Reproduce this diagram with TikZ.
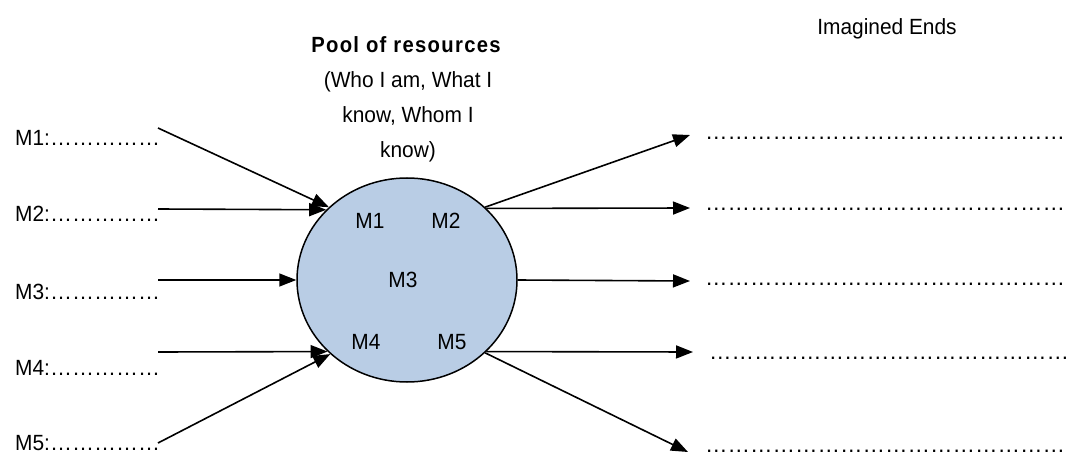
\documentclass[tikz,border=0pt]{standalone}
\usepackage{fontspec}
\setmainfont[FakeStretch=0.95]{Liberation Sans}
\newfontfamily\titlefont[LetterSpace=6,FakeStretch=0.92]{Liberation Sans}
\newfontfamily\dotfont{Liberation Sans}
\usetikzlibrary{arrows.meta,shapes.geometric}
\definecolor{poolblue}{RGB}{185,205,229}
\begin{document}
\begin{tikzpicture}[x=1pt,y=-1pt,
  txt/.style={font=\fontsize{22}{26}\selectfont, inner sep=0pt},
  lab/.style={txt, anchor=base west},
  dots/.style={lab, font=\dotfont\fontsize{22.5}{26}\selectfont},
  arr/.style={-{Triangle[length=17pt,width=13pt]}, line width=1.6pt},
  pool/.style={ellipse, draw, line width=1.5pt, fill=poolblue, minimum width=220pt, minimum height=204pt, inner sep=0pt}]
\useasboundingbox (0,0) rectangle (1078,457);
% titles
\node[txt, font=\titlefont\bfseries\fontsize{22}{26}\selectfont] (title) at (406,45) {Pool of resources};
\node[txt, font=\fontsize{22}{35}\selectfont, align=center, anchor=north] (sub) at (408,71) {(Who I am, What I\\know, Whom I\\know)};
\node[txt, anchor=base] (ends) at (887,35) {Imagined Ends};
% pool
\node[pool] (pool) at (407,280) {};
\node[txt] (c1) at (370,221) {M1};
\node[txt] (c2) at (446,221) {M2};
\node[txt] (c3) at (403,280) {M3};
\node[txt] (c4) at (366,342) {M4};
\node[txt] (c5) at (452,342) {M5};
% left labels
\node[lab] (l1) at (15,146) {M1:{\dotfont ……………}};
\node[lab] (l2) at (15,221) {M2:{\dotfont ……………}};
\node[lab] (l3) at (15,299) {M3:{\dotfont ……………}};
\node[lab] (l4) at (15,375) {M4:{\dotfont ……………}};
\node[lab] (l5) at (15,450) {M5:{\dotfont ……………}};
\coordinate (s1) at (158,128);
\coordinate (s2) at (158,209);
\coordinate (s3) at (158,280);
\coordinate (s4) at (158,352);
\coordinate (s5) at (158,443);
\draw[arr] (s1) -- (pool.137);
\draw[arr] (s2) -- (pool.139);
\draw[arr] (s3) -- (pool.180);
\draw[arr] (s4) -- (pool.222);
\draw[arr] (s5) -- (pool.224);
% right
\coordinate (e1) at (690,135);
\coordinate (e2) at (690,208);
\coordinate (e3) at (690,281);
\coordinate (e4) at (693,352);
\coordinate (e5) at (688,452);
\draw[arr] (pool.43) -- (e1);
\draw[arr] (pool.42) -- (e2);
\draw[arr] (pool.0) -- (e3);
\draw[arr] (pool.-42) -- (e4);
\draw[arr] (pool.-43) -- (e5);
\node[dots] (r1) at (705,140) {…………………………………………};
\node[dots] (r2) at (705,211) {…………………………………………};
\node[dots] (r3) at (705,285) {…………………………………………};
\node[dots] (r4) at (709,359) {…………………………………………};
\node[dots] (r5) at (705,452) {…………………………………………};
\end{tikzpicture}
\end{document}
